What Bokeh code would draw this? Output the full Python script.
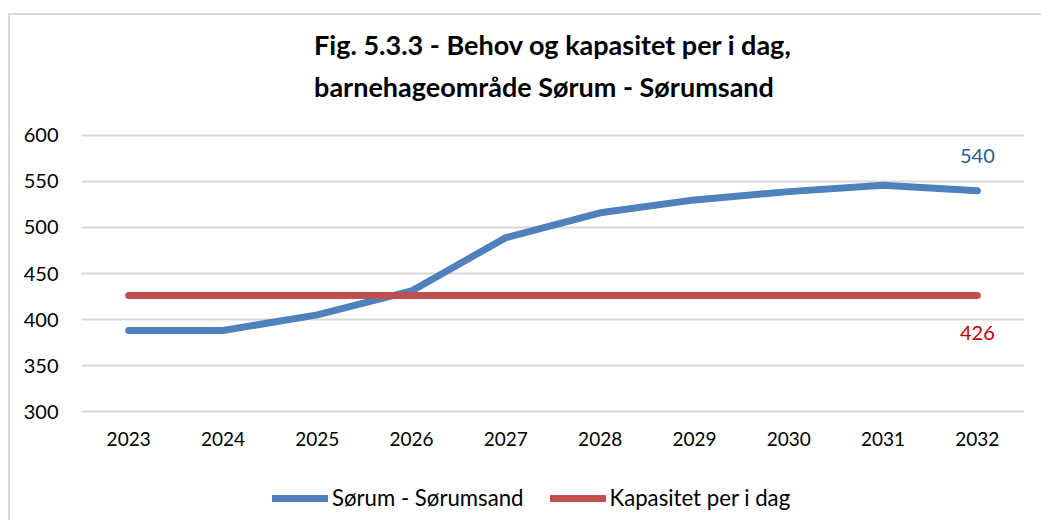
from bokeh.plotting import figure
from bokeh.layouts import column
from bokeh.models import Legend, LegendItem, Title, ColumnDataSource, FixedTicker
from bokeh.core.properties import value
from bokeh.embed import file_html
from bokeh.resources import INLINE

years = ["2023", "2024", "2025", "2026", "2027", "2028", "2029", "2030", "2031", "2032"]
sorum = [388, 388, 405, 431, 489, 516, 530, 539, 546, 540]
kapasitet = [426, 426, 426, 426, 426, 426, 426, 426, 426, 426]
y_ticks = [300, 350, 400, 450, 500, 550, 600]
title_lines = ["Fig. 5.3.3 - Behov og kapasitet per i dag,", "barnehageområde Sørum - Sørumsand"]
series_names = ["Sørum - Sørumsand", "Kapasitet per i dag"]

FONT = "Lato"
BLUE = "#4F81BD"
RED = "#C0504D"

# title strip, its frame centred on the whole chart
ts = figure(x_range=(0, 1), y_range=(0, 1), width=1031, height=105,
            output_backend="svg", toolbar_location=None,
            x_axis_location=None, y_axis_location=None,
            min_border_left=0, min_border_right=11, min_border_top=0, min_border_bottom=0)
ts.grid.visible = False
ts.outline_line_color = None
ts.title = None
t = Title(text="\n".join(title_lines), align="center", text_font=FONT, text_font_size="27px",
          text_font_style="bold", text_color="#000000", standoff=20, text_line_height=1.3)
ts.add_layout(t, "above")

p = figure(x_range=years, y_range=(297.83, 602.17), width=1031, height=340,
           output_backend="svg", toolbar_location=None,
           min_border_left=71, min_border_right=17, min_border_bottom=47, min_border_top=13)
p.title = None

src = ColumnDataSource(dict(x=years, s=sorum, k=kapasitet))
r1 = p.line("x", "s", source=src, line_color=BLUE, line_width=7, line_cap="round", line_join="round")
r2 = p.line("x", "k", source=src, line_color=RED, line_width=7, line_cap="round", line_join="round")

p.text(x=[years[-1]], y=[sorum[-1]], text=[str(sorum[-1])], text_align="center",
       text_baseline="middle", y_offset=-35, text_font=value(FONT), text_font_size="20px",
       text_color="#2C5A94")
p.text(x=[years[-1]], y=[kapasitet[-1]], text=[str(kapasitet[-1])], text_align="center",
       text_baseline="middle", y_offset=37, text_font=value(FONT), text_font_size="20px",
       text_color="#C00000")

p.yaxis.ticker = FixedTicker(ticks=y_ticks)
p.ygrid.ticker = FixedTicker(ticks=y_ticks)
p.xgrid.grid_line_color = None
p.ygrid.grid_line_color = "#D9D9D9"
p.ygrid.grid_line_width = 2
p.outline_line_color = None
for ax in (p.xaxis, p.yaxis):
    ax.axis_line_color = None
    ax.major_tick_line_color = None
    ax.minor_tick_line_color = None
    ax.major_tick_out = 0
    ax.major_tick_in = 0
    ax.minor_tick_out = 0
    ax.major_label_text_font = FONT
    ax.major_label_text_color = "#000000"
p.yaxis.major_label_text_font_size = "20px"
p.xaxis.major_label_text_font_size = "19px"
p.yaxis.major_label_standoff = 23
p.xaxis.major_label_standoff = 18

# legend in its own strip below the chart (its lines lie outside this strip's range)
lg = figure(x_range=years, y_range=(0, 1), width=1031, height=60,
            output_backend="svg", toolbar_location=None,
            min_border_left=0, min_border_right=0, min_border_top=0, min_border_bottom=0)
lg.axis.visible = False
lg.grid.visible = False
lg.outline_line_color = None
l1 = lg.line("x", "s", source=src, line_color=BLUE, line_width=7, line_cap="round")
l2 = lg.line("x", "k", source=src, line_color=RED, line_width=7, line_cap="round")
legend = Legend(items=[LegendItem(label=series_names[0], renderers=[l1]),
                       LegendItem(label=series_names[1], renderers=[l2])],
                orientation="horizontal", location=(191, 9),
                label_text_font=FONT, label_text_font_size="22.2px", label_text_color="#000000",
                glyph_width=56, label_standoff=4, spacing=26, padding=8,
                border_line_color=None, background_fill_alpha=0, margin=0)
lg.add_layout(legend, "center")

layout = column(ts, p, lg, spacing=0)
layout.styles = {"margin-left": "8px", "margin-top": "13px",
                 "border-left": "2px solid #D9D9D9", "border-top": "2px solid #D9D9D9"}

open("out.html", "w").write(file_html(layout, INLINE))
